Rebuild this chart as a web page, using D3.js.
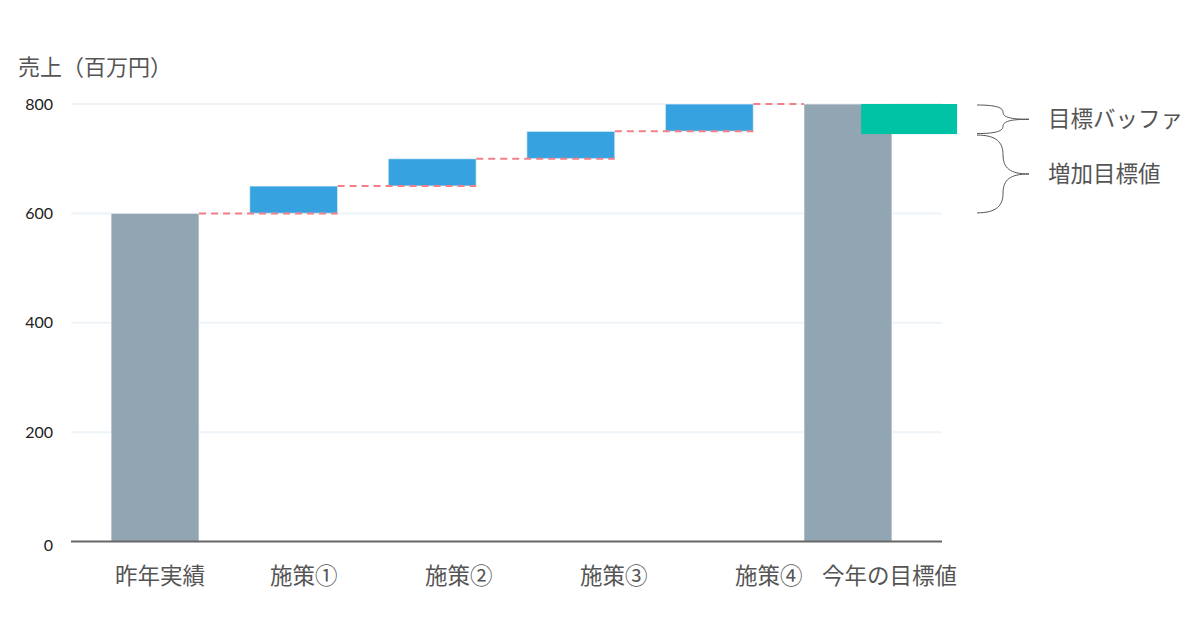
<!DOCTYPE html>
<html><head><meta charset="utf-8">
<script src="https://cdn.jsdelivr.net/npm/d3@7"></script>
<style>
html,body{margin:0;padding:0;background:#fff;}
svg{display:block;}
</style></head>
<body>
<svg id="chart" width="1200" height="630"></svg>
<script>
const categories = ['昨年実績','施策①','施策②','施策③','施策④','今年の目標値'];
const barTypes = ['total','delta','delta','delta','delta','total'];
const values = [600, 50, 50, 50, 50, 800];
const bufferRange = [745, 800];
const yTicks = [0, 200, 400, 600, 800];
const yTitle = '売上（百万円）';
const annotationLabels = ['目標バッファ', '増加目標値'];

const svg = d3.select('#chart');
const FONT = "'Noto Sans CJK JP','Noto Sans',sans-serif";
const TICKFONT = "Lato,'Noto Sans',sans-serif";

const y = d3.scaleLinear().domain([0, 800]).range([541.5, 104]);
const x = d3.scaleBand().domain(categories).range([71, 932]).paddingInner(0.365).paddingOuter(0.289);
const axisX0 = 71, axisX1 = 942;

// compute waterfall segments
let cum = 0;
const segs = categories.map((c, i) => {
  let lo, hi;
  if (barTypes[i] === 'total') { lo = 0; hi = values[i]; cum = values[i]; }
  else { lo = cum; hi = cum + values[i]; cum = hi; }
  return {c, lo, hi, type: barTypes[i]};
});

// y title
svg.append('text').attr('x', 18).attr('y', 75).attr('font-family', FONT).attr('font-size', 22)
  .attr('fill', '#555').text(yTitle);

// gridlines
svg.append('g').selectAll('line').data(yTicks.filter(d => d > 0)).join('line')
  .attr('x1', axisX0).attr('x2', axisX1).attr('y1', d => y(d)).attr('y2', d => y(d))
  .attr('stroke', '#edf3f7').attr('stroke-width', 2);

// y tick labels
svg.append('g').selectAll('text').data(yTicks).join('text')
  .attr('x', 53).attr('text-anchor', 'end')
  .attr('y', d => y(d) + (d === 0 ? 4 : 0)).attr('dy', '0.35em')
  .attr('font-family', TICKFONT).attr('font-size', 16).attr('fill', '#222')
  .text(d => d);

// bars
svg.append('g').selectAll('rect').data(segs).join('rect')
  .attr('x', d => x(d.c)).attr('width', x.bandwidth())
  .attr('y', d => y(d.hi)).attr('height', d => y(d.lo) - y(d.hi))
  .attr('fill', d => d.type === 'total' ? '#91a5b3' : '#36a3e0')
  .attr('stroke', 'rgba(255,255,255,0.55)').attr('stroke-width', 1.2);

// connectors
const conns = [];
for (let i = 0; i < segs.length - 1; i++) {
  const next = segs[i + 1];
  const x1 = x(segs[i].c) + x.bandwidth();
  const x2 = next.type === 'total' ? x(next.c) : x(next.c) + x.bandwidth();
  conns.push({x1, x2, v: segs[i].hi});
}
svg.append('g').selectAll('line').data(conns).join('line')
  .attr('x1', d => d.x1).attr('x2', d => d.x2).attr('y1', d => y(d.v)).attr('y2', d => y(d.v))
  .attr('stroke', '#f47f89').attr('stroke-width', 2).attr('stroke-dasharray', '7,5');

// buffer bar
const last = categories[categories.length - 1];
svg.append('rect')
  .attr('x', x(last) + x.bandwidth() * 0.65).attr('width', x.bandwidth() * 1.09)
  .attr('y', y(bufferRange[1])).attr('height', y(bufferRange[0]) - y(bufferRange[1]))
  .attr('fill', '#00c2a5');

// x axis line
svg.append('line').attr('x1', axisX0).attr('x2', axisX1).attr('y1', y(0)).attr('y2', y(0))
  .attr('stroke', '#666').attr('stroke-width', 2);

// x labels
const lx = d3.scalePoint().domain(categories).range([115, 115 + 155 * 5]);
const labels = svg.append('g').selectAll('text').data(categories).join('text')
  .attr('y', 584).attr('font-family', FONT).attr('font-size', 22.5).attr('fill', '#555')
  .text(d => d);
labels.each(function(d) {
  const w = this.getComputedTextLength();
  this.setAttribute('x', Math.min(lx(d), 957 - w));
});

// braces
function brace(y1, y2) {
  const x0 = 977, xc = 1003, xt = 1029, ym = (y1 + y2) / 2;
  const h = (y2 - y1) / 2;
  const half = (ya, s) => {
    const yq = ya + s * h * 0.5;
    return `M${x0},${ya} C${x0 + 20},${ya} ${xc},${ya + s * h * 0.2} ${xc},${yq}` +
      ` C${xc},${yq + s * h * 0.35} ${xc + 7},${ym} ${xt},${ym}`;
  };
  return half(y1, 1) + ' ' + half(y2, -1);
}
const braceRanges = [[bufferRange[1], bufferRange[0]], [bufferRange[0], values[0]]];
svg.append('g').selectAll('path').data(braceRanges).join('path')
  .attr('d', d => brace(y(d[0]) + 1, y(d[1]) - 0.5))
  .attr('fill', 'none').attr('stroke', '#555').attr('stroke-width', 1);
svg.append('g').selectAll('text').data(annotationLabels).join('text')
  .attr('x', 1048).attr('y', (d, i) => (y(braceRanges[i][0]) + y(braceRanges[i][1])) / 2)
  .attr('dy', '0.36em').attr('font-family', FONT).attr('font-size', 22.5).attr('fill', '#555')
  .text(d => d);
</script>
</body></html>
